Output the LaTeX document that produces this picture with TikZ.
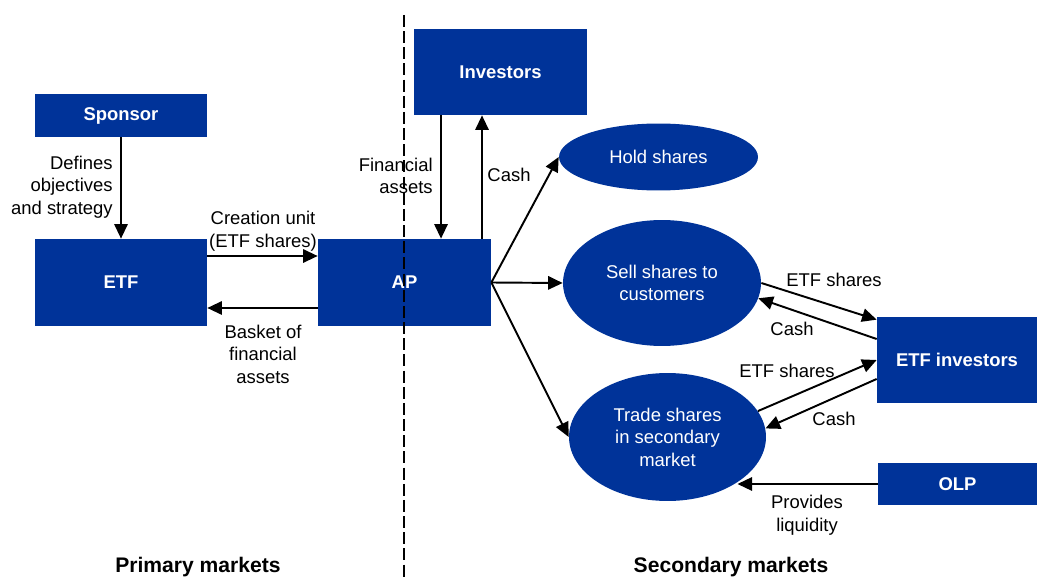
\documentclass[tikz,border=0pt]{standalone}
\usepackage{fontspec}
\setmainfont{Liberation Sans}
\usetikzlibrary{arrows.meta,shapes.geometric}
\definecolor{etfblue}{HTML}{003399}

\begin{document}
\begin{tikzpicture}[
        x=0.02cm, y=-0.02cm,
        every node/.style={font=\fontsize{10.5}{12.8}\selectfont},
        box/.style={rectangle, fill=etfblue, text=white, font=\fontsize{10.5}{12.8}\selectfont\bfseries, inner sep=0pt},
        oval/.style={ellipse, fill=etfblue, text=white, align=center, inner sep=0pt},
        lbl/.style={align=center, inner sep=0pt},
        arr/.style={-{Triangle[length=8.3pt,width=7.6pt]}, line width=1.1pt},
        side_label/.style={font=\fontsize{12}{14}\selectfont\bfseries}
    ]
        \useasboundingbox (0,0) rectangle (1037,577);

        % Primary market
        \node[box, minimum width=3.44cm, minimum height=0.86cm] (sponsor) at (121,115.5) {Sponsor};
        \node[box, minimum width=3.44cm, minimum height=1.74cm] (etf) at (121,282.5) {ETF};
        \node[box, minimum width=3.46cm, minimum height=1.74cm] (ap) at (404.5,282.5) {AP};
        \node[box, minimum width=3.46cm, minimum height=1.72cm] (investors) at (500.5,72) {Investors};

        % Secondary market
        \node[oval, minimum width=3.98cm, minimum height=1.34cm] (hold) at (658.5,157) {Hold shares};
        \node[oval, minimum width=3.96cm, minimum height=2.52cm] (sell) at (662,283) {Sell shares to\\customers};
        \node[oval, minimum width=3.94cm, minimum height=2.56cm] (trade) at (667.5,437) {Trade shares\\in secondary\\market};
        \node[box, minimum width=3.2cm, minimum height=1.72cm] (etfinv) at (957,360) {ETF investors};
        \node[box, minimum width=3.18cm, minimum height=0.84cm] (olp) at (957.5,484) {OLP};

        \draw[arr] (sponsor) -- (etf);
        \draw[arr] ([yshift=0.53cm]etf.east) -- ([yshift=0.53cm]ap.west);
        \draw[arr] ([yshift=-0.51cm]ap.west) -- ([yshift=-0.51cm]etf.east);
        \draw[arr] ([xshift=-1.19cm]investors.south) -- ([xshift=-1.19cm]investors.south |- ap.north);
        \draw[arr] ([xshift=-0.37cm]investors.south |- ap.north) -- ([xshift=-0.37cm]investors.south);

        \draw[arr] (ap.east) -- (hold.west);
        \draw[arr] (ap.east) -- (sell.west);
        \draw[arr] (ap.east) -- (trade.west);

        \draw[arr] (sell.east) -- ([yshift=-0.06cm]etfinv.north west);
        \draw[arr] ([yshift=0.42cm]etfinv.west) -- (sell.-9);
        \draw[arr] (trade.16) -- (etfinv.west);
        \draw[arr] ([yshift=-0.38cm]etfinv.west) -- (trade.5);
        \draw[arr] (olp.west) -- (trade.-33 |- olp.west);

        % Labels
        \node[lbl, align=right, anchor=east] (ldefines) at (113,187) {Defines\\objectives\\and strategy};
        \node[lbl] (lcreation) at (263,231) {Creation unit\\(ETF shares)};
        \node[lbl] (lbasket) at (263,354) {Basket of\\financial\\assets};
        \node[lbl, align=right, anchor=east] (lfinassets) at (433,176) {Financial\\assets};
        \node[lbl] (lcash1) at (509,175) {Cash};
        \node[lbl] (lshares1) at (834,280) {ETF shares};
        \node[lbl] (lcash2) at (792,329) {Cash};
        \node[lbl] (lshares2) at (787,371) {ETF shares};
        \node[lbl] (lcash3) at (834,419) {Cash};
        \node[lbl] (lliquidity) at (807,515) {Provides\\liquidity};

        % Divider
        \coordinate (divtop) at (404,15);
        \coordinate (divbot) at (404,577);
        \draw[line width=0.8pt, dash pattern=on 6.8pt off 2.4pt] (divtop) -- (divbot);

        \node[side_label] (lprimary) at (198,567) {Primary markets};
        \node[side_label] (lsecondary) at (731,567) {Secondary markets};

    \end{tikzpicture}
\end{document}
